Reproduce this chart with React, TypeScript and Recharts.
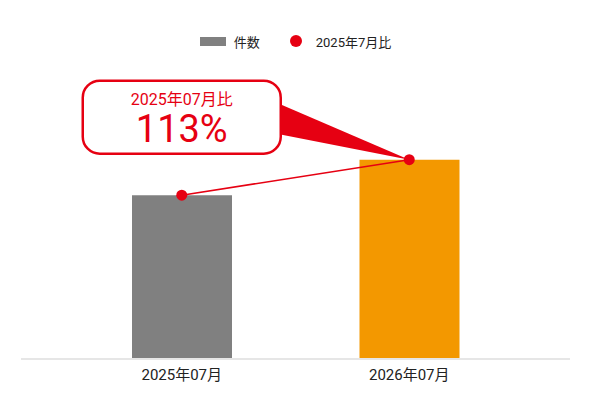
import { ComposedChart, Bar, Line, XAxis, YAxis, Legend, Cell } from "recharts";

const months = ["2025年07月", "2026年07月"];
const counts = [100, 113];
const barColors = ["#808080", "#F39800"];
const ratioLabel = "2025年07月比";
const ratioText = "113%";

const RED = "#E60012";
const FONT = "Roboto, 'Noto Sans CJK JP', sans-serif";

const data = months.map((m, i) => ({ month: m, count: counts[i] }));

// legend drawn by hand so it matches the gray box + red dot look
const LegendBox = () => (
  <div
    style={{
      height: 30,
      display: "flex",
      alignItems: "center",
      justifyContent: "center",
      fontFamily: FONT,
      fontSize: 13,
      color: "#222",
    }}
  >
    <span style={{ width: 26, height: 9, background: "#808080", marginRight: 8 }} />
    <span>件数</span>
    <span
      style={{
        width: 12,
        height: 12,
        borderRadius: 6,
        background: RED,
        marginLeft: 30,
        marginRight: 14,
      }}
    />
    <span>2025年7月比</span>
  </div>
);

// dot renderer; the second point also carries the speech bubble
const RatioDot = (props: any) => {
  const { cx, cy, index, points } = props;
  const dot = <circle cx={cx} cy={cy} r={5.5} fill={RED} />;
  if (index !== 1) return <g key={`d-${index}`}>{dot}</g>;
  const anchorX = points && points[0] ? points[0].x : cx - 227;
  const w = 198;
  const h = 73;
  const bx = anchorX - w / 2;
  const by = cy - 6 - h;
  return (
    <g key={`d-${index}`}>
      <polygon
        points={`${bx + w - 4},${by + 22} ${bx + w - 4},${by + 53} ${cx},${cy}`}
        fill={RED}
      />
      <rect x={bx} y={by} width={w} height={h} rx={17} fill="#fff" stroke={RED} strokeWidth={2.5} />
      <text x={anchorX} y={by + 24} textAnchor="middle" fill={RED} fontSize={16} fontFamily={FONT}>
        {ratioLabel}
      </text>
      <text x={anchorX} y={by + 61} textAnchor="middle" fill={RED} fontSize={38} fontFamily={FONT}>
        {ratioText}
      </text>
      {dot}
    </g>
  );
};

export default function App() {
  return (
    <div style={{ position: "absolute", left: 0, top: 0, background: "#fff" }}>
      <ComposedChart
        width={592}
        height={400}
        data={data}
        margin={{ top: 56, right: 22, bottom: 11, left: 21 }}
      >
        <Legend
          verticalAlign="top"
          content={<LegendBox />}
          wrapperStyle={{ top: 26 }}
        />
        <XAxis
          dataKey="month"
          padding={{ left: 47, right: 47 }}
          height={30}
          tickLine={false}
          tickSize={6}
          tickMargin={4}
          axisLine={{ stroke: "#E6E6E6", strokeWidth: 2 }}
          tick={{ fill: "#222", fontSize: 15, fontFamily: FONT }}
        />
        <YAxis hide domain={[40, 140]} />
        <Bar dataKey="count" barSize={100} isAnimationActive={false}>
          {data.map((d, i) => (
            <Cell key={d.month} fill={barColors[i]} />
          ))}
        </Bar>
        <Line
          dataKey="count"
          stroke={RED}
          strokeWidth={1.5}
          dot={RatioDot}
          activeDot={false}
          isAnimationActive={false}
        />
      </ComposedChart>
    </div>
  );
}
